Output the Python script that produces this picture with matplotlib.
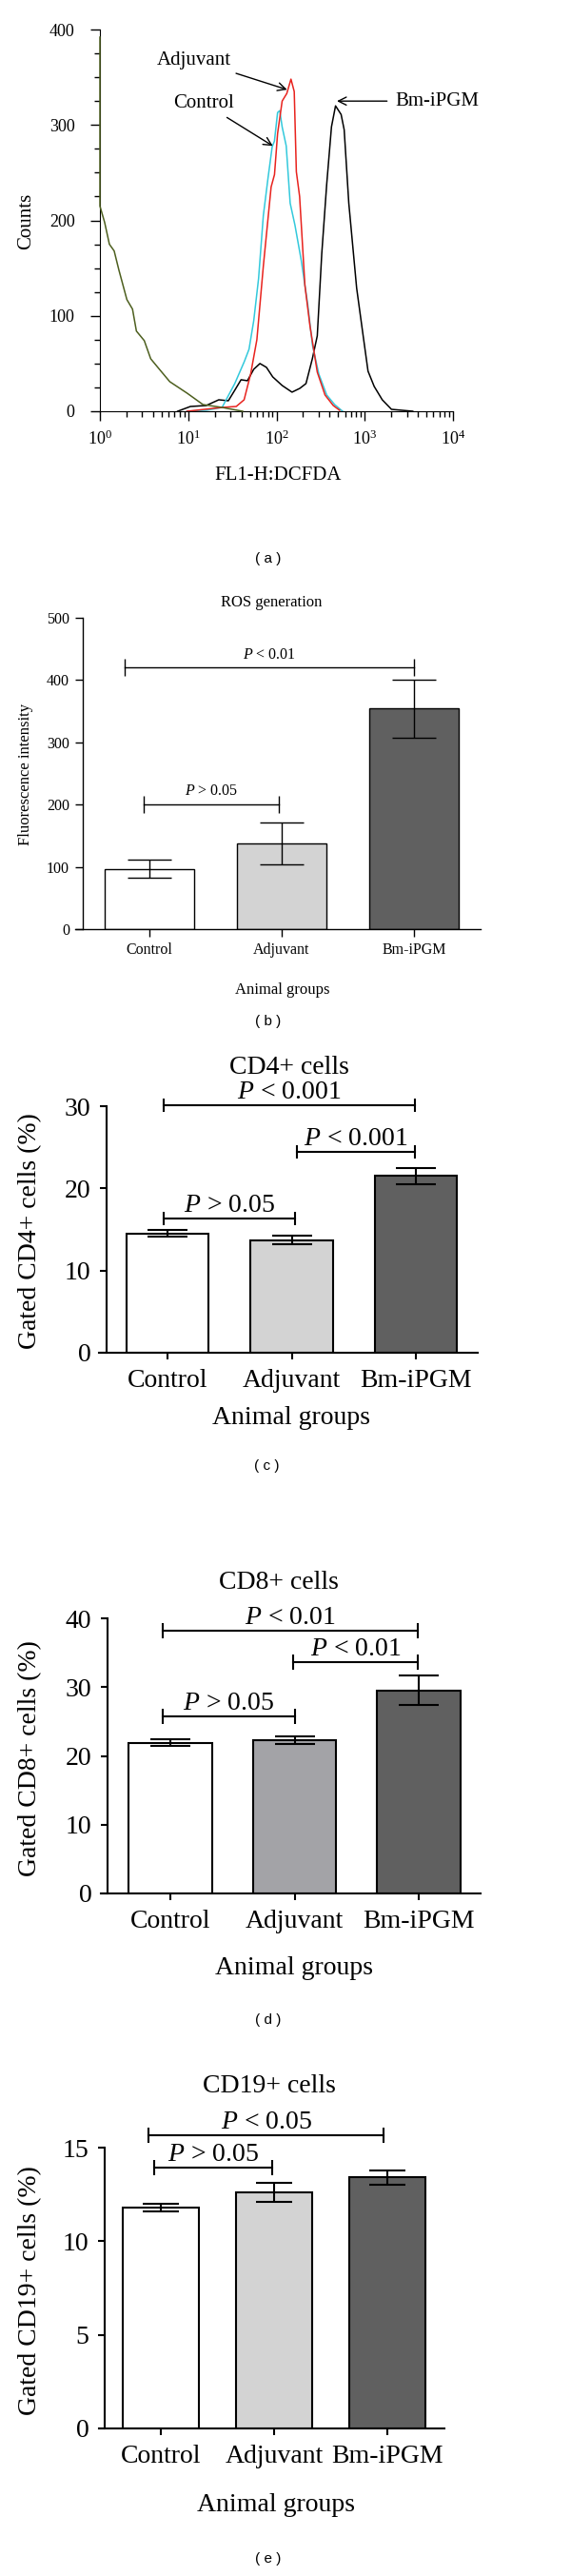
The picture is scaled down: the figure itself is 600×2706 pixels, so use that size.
import numpy as np
import matplotlib
matplotlib.use('Agg')
import matplotlib.pyplot as plt
from matplotlib.ticker import MultipleLocator, LogLocator, NullFormatter

# histogram curves (FL1-H:DCFDA fluorescence vs counts)
green_x = [1.0, 1.0, 1.13, 1.28, 1.45, 1.64, 2.02, 2.34, 2.59, 3.18, 3.76, 4.62, 6.18, 9.7, 14.7, 24.2, 41.4]
green_y = [392, 215, 198, 175, 168, 148, 117, 107, 84, 74, 55, 45, 31, 19, 7, 4, 0]
cyan_x = [9.7, 16.0, 24.2, 33.7, 43.2, 48.9, 55.3, 62.7, 71.0, 80.4, 89.4, 94.8, 103, 109, 116,
          129, 143, 162, 191, 226, 256, 302, 371, 456, 561]
cyan_y = [0, 1, 4, 29, 52, 65, 95, 139, 205, 245, 277, 283, 313, 315, 298,
          278, 218, 195, 158, 112, 69, 39, 17, 7, 0]
red_x = [9.7, 24.2, 35, 43, 51, 60, 71, 87, 95, 103, 116, 131, 146, 159, 168, 183, 210, 240, 290, 355, 440, 520]
red_y = [0, 4, 5, 12, 39, 75, 152, 235, 248, 291, 325, 333, 348, 335, 251, 225, 132, 89, 41, 17, 6, 1]
black_x = [7.6, 10.6, 16, 22.2, 28.5, 33.7, 39.7, 46.9, 55.3, 65, 77, 90.7, 116, 150, 184, 216, 255,
           290, 326, 371, 420, 467, 540, 585, 660, 810, 960, 1090, 1280, 1580, 2010, 3500]
black_y = [0, 5, 6, 12, 11, 22, 33, 32, 44, 50, 46, 36, 27, 20, 24, 29, 55,
           79, 165, 238, 298, 320, 311, 295, 218, 129, 79, 42, 26, 12, 2, 0]

groups = ['Control', 'Adjuvant', 'Bm-iPGM']
ros_mean = [97, 138, 354]
ros_err = [14, 34, 46]
cd4_mean = [14.5, 13.7, 21.5]
cd4_err = [0.4, 0.5, 1.0]
cd8_mean = [21.9, 22.3, 29.5]
cd8_err = [0.5, 0.6, 2.15]
cd19_mean = [11.8, 12.6, 13.4]
cd19_err = [0.22, 0.52, 0.37]

W, H = 600, 2706
plt.rcParams['font.family'] = ['Liberation Serif', 'DejaVu Serif']
plt.rcParams['mathtext.fontset'] = 'custom'
plt.rcParams['mathtext.rm'] = 'Liberation Serif'
plt.rcParams['mathtext.it'] = 'Liberation Serif:italic'

fig = plt.figure(figsize=(W / 100, H / 100), dpi=100)


def add_ax(left, top, right, bottom):
    return fig.add_axes([left / W, 1 - bottom / H, (right - left) / W, (bottom - top) / H])


def ftext(x, y, s, **kw):
    fig.text(x / W, 1 - y / H, s, ha='center', va='center', **kw)


# (a) histogram
ax = add_ax(105, 31, 476, 432)
ax.plot(green_x, green_y, color='#4d5f1f', lw=1.1, zorder=3, clip_on=False)
ax.plot(black_x, black_y, color='k', lw=1.1)
ax.plot(cyan_x, cyan_y, color='#33c9dc', lw=1.1)
ax.plot(red_x, red_y, color='#e8231e', lw=1.1)
ax.set_xscale('log')
ax.set_xlim(1, 1e4)
ax.set_ylim(0, 400)
ax.yaxis.set_major_locator(MultipleLocator(100))
ax.yaxis.set_minor_locator(MultipleLocator(25))
ax.xaxis.set_major_locator(LogLocator(base=10))
ax.xaxis.set_minor_locator(LogLocator(base=10, subs=np.arange(2, 10)))
ax.xaxis.set_minor_formatter(NullFormatter())
for s in ('top', 'right'):
    ax.spines[s].set_visible(False)
ax.tick_params(which='major', direction='out', length=7, width=1, labelsize=13)
ax.tick_params(which='minor', direction='out', length=4, width=1)
ax.tick_params(axis='y', which='major', pad=12)
ax.tick_params(axis='x', which='major', pad=7)
arrow = dict(arrowstyle='->', color='k', lw=1, shrinkA=4, shrinkB=0)
ax.annotate('Adjuvant', xy=(132, 337), xytext=(31, 368), ha='right', va='center',
            fontsize=15, arrowprops=arrow)
ax.annotate('Control', xy=(91, 278), xytext=(33, 323), ha='right', va='center',
            fontsize=15, arrowprops=arrow)
ax.annotate('Bm-iPGM', xy=(484, 325), xytext=(2200, 325), ha='left', va='center',
            fontsize=15, arrowprops=arrow)
ftext(292, 500, 'FL1-H:DCFDA', fontsize=15)
ftext(28, 232, 'Counts', fontsize=15, rotation=90)
ftext(282, 587, '( a )', fontsize=11, family='Liberation Sans')


def bar_panel(box, c0, step, spine_px, means, errs, colors, ylim, ystep, width,
              cap, lw, fs, brackets, bmark, boff, tlen, tpad):
    left, top, right, bottom = box
    ax = add_ax(left, top, right, bottom)
    x = np.arange(len(means))
    ax.bar(x, means, width=width, color=colors, edgecolor='k', linewidth=lw, zorder=2)
    ax.errorbar(x, means, yerr=errs, fmt='none', ecolor='k', elinewidth=lw,
                capsize=cap, capthick=lw, zorder=3)
    ax.set_xlim(-(c0 - left) / step, (right - c0) / step)
    ax.set_ylim(*ylim)
    ax.yaxis.set_major_locator(MultipleLocator(ystep))
    ax.set_xticks(x)
    ax.set_xticklabels(groups)
    for s in ('top', 'right'):
        ax.spines[s].set_visible(False)
    ax.spines['left'].set_position(('axes', (spine_px - left) / (right - left)))
    ax.spines['left'].set_linewidth(lw)
    ax.spines['bottom'].set_linewidth(lw)
    ax.tick_params(direction='out', length=tlen, width=lw, labelsize=fs, pad=tpad)
    for x1, x2, y, txt in brackets:
        ax.plot([x1, x2], [y, y], color='k', lw=lw, marker='|', markersize=bmark,
                markeredgewidth=lw, clip_on=False)
        ax.annotate(txt, xy=((x1 + x2) / 2, y), xytext=(0, boff), textcoords='offset points',
                    ha='center', va='baseline', fontsize=fs, annotation_clip=False)
    return ax


# (b) ROS generation
bar_panel((79, 649, 505, 976), 157, 139, 87, ros_mean, ros_err,
          ['white', '#d3d3d3', '#606060'], (0, 500), 100, 0.67, 16.5, 1.0, 11.5,
          [(-0.19, 2.0, 420, '$P$ < 0.01'), (-0.04, 0.98, 200, '$P$ > 0.05')],
          13, 7, 6, 4)
ftext(285, 633, 'ROS generation', fontsize=12)
ftext(27, 813, 'Fluorescence intensity', fontsize=12, rotation=90)
ftext(297, 1040, 'Animal groups', fontsize=12)
ftext(282, 1073, '( b )', fontsize=11, family='Liberation Sans')

# (c) CD4+
bar_panel((104, 1162, 502, 1421), 176, 130.5, 112, cd4_mean, cd4_err,
          ['white', '#d3d3d3', '#606060'], (0, 30), 10, 0.66, 15, 1.5, 20,
          [(-0.03, 1.99, 30.07, '$P$ < 0.001'), (1.04, 1.99, 24.47, '$P$ < 0.001'),
           (-0.03, 1.03, 16.35, '$P$ > 0.05')],
          10, 5, 5, 7)
ftext(304, 1122, 'CD4+ cells', fontsize=20)
ftext(32, 1293, 'Gated CD4+ cells (%)', fontsize=20, rotation=90)
ftext(306, 1490, 'Animal groups', fontsize=20)
ftext(280, 1540, '( c )', fontsize=11, family='Liberation Sans')

# (d) CD8+
bar_panel((106, 1700, 505, 1989), 179, 130.5, 113, cd8_mean, cd8_err,
          ['white', '#a3a3a7', '#606060'], (0, 40), 10, 0.667, 15, 1.5, 20,
          [(-0.06, 1.99, 38.16, '$P$ < 0.01'), (0.99, 1.99, 33.7, '$P$ < 0.01'),
           (-0.06, 1.0, 25.7, '$P$ > 0.05')],
          12, 5, 5, 7)
ftext(293, 1663, 'CD8+ cells', fontsize=20)
ftext(32, 1847, 'Gated CD8+ cells (%)', fontsize=20, rotation=90)
ftext(309, 2068, 'Animal groups', fontsize=20)
ftext(282, 2122, '( d )', fontsize=11, family='Liberation Sans')

# (e) CD19+
bar_panel((104, 2256, 467, 2551), 169, 119, 110, cd19_mean, cd19_err,
          ['white', '#d3d3d3', '#606060'], (0, 15), 5, 0.664, 14, 1.5, 20,
          [(-0.11, 1.97, 15.64, '$P$ < 0.05'), (-0.06, 0.98, 13.95, '$P$ > 0.05')],
          12, 5, 5, 7)
ftext(283, 2192, 'CD19+ cells', fontsize=20)
ftext(32, 2406, 'Gated CD19+ cells (%)', fontsize=20, rotation=90)
ftext(290, 2632, 'Animal groups', fontsize=20)
ftext(282, 2688, '( e )', fontsize=11, family='Liberation Sans')

fig.savefig('out.png', dpi=100)
